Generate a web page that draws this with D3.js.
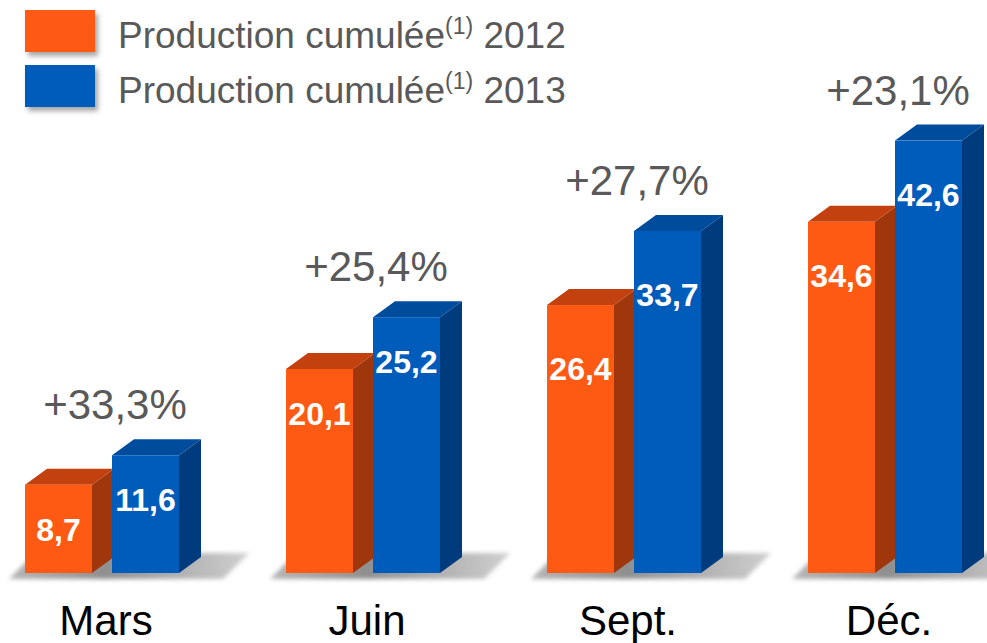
<!DOCTYPE html>
<html>
<head>
<meta charset="utf-8">
<script src="https://cdn.jsdelivr.net/npm/d3@7"></script>
<style>
  body { margin: 0; background: #fff; }
  text { font-family: "Liberation Sans", Arial, sans-serif; }
</style>
</head>
<body>
<script>
// data
var categories = ['Mars', 'Juin', 'Sept.', 'Déc.'];
var series = ['2012', '2013'];
var prod2012 = [8.7, 20.1, 26.4, 34.6];
var prod2013 = [11.6, 25.2, 33.7, 42.6];
var growthLabels = ['+33,3%', '+25,4%', '+27,7%', '+23,1%'];

// layout
var width = 987, height = 643;
var baseY = 573;
var depth = { dx: 22, dy: -16 };
var labelDrop = [45, 45, 64, 54]; // value label offset under bar top, per group
var colors = {
  '2012': { front: '#FE5A14', top: '#C2410E', side: '#A0360B' },
  '2013': { front: '#005CBB', top: '#004C9C', side: '#003B7E' }
};

var svg = d3.select('body').append('svg')
  .attr('width', width).attr('height', height);

var defs = svg.append('defs');
defs.append('filter').attr('id', 'blur')
  .attr('x', '-20%').attr('y', '-50%').attr('width', '140%').attr('height', '200%')
  .append('feGaussianBlur').attr('stdDeviation', 2);
var ds = defs.append('filter').attr('id', 'drop')
  .attr('x', '-20%').attr('y', '-20%').attr('width', '150%').attr('height', '160%');
ds.append('feDropShadow').attr('dx', 3).attr('dy', 4).attr('stdDeviation', 2.5)
  .attr('flood-color', '#000').attr('flood-opacity', 0.35);
var sg = defs.append('linearGradient').attr('id', 'floor');
sg.append('stop').attr('offset', '0%').attr('stop-color', '#b5b5b5');
sg.append('stop').attr('offset', '40%').attr('stop-color', '#8f8f8f');
sg.append('stop').attr('offset', '100%').attr('stop-color', '#d0d0d0');

var x = d3.scaleBand().domain(categories).range([25, 25 + 261 * 4]).padding(0);
var xs = d3.scaleBand().domain(series).range([0, 154]).paddingInner(0.23);
var y = d3.scaleLinear().domain([0, 45]).range([baseY, baseY - 45 * 10.15]);

var rows = categories.map(function(c, i) {
  return { cat: c, i: i, values: [
    { s: '2012', v: prod2012[i] },
    { s: '2013', v: prod2013[i] }
  ] };
});

var groups = svg.selectAll('g.group').data(rows).enter()
  .append('g').attr('class', 'group')
  .attr('transform', function(d) { return 'translate(' + x(d.cat) + ',0)'; });

// floor shadow
groups.append('polygon')
  .attr('points', function() {
    var w = xs.range()[1];
    return [[-16, baseY + 6], [w + 44, baseY + 6], [w + 70, baseY - 20], [10, baseY - 20]]
      .map(function(p) { return p.join(','); }).join(' ');
  })
  .attr('fill', 'url(#floor)')
  .attr('filter', 'url(#blur)');

var bars = groups.selectAll('g.bar').data(function(d) { return d.values; }).enter()
  .append('g').attr('class', 'bar');

var bw = xs.bandwidth();

bars.append('polygon') // side
  .attr('points', function(d) {
    var x1 = xs(d.s) + bw, t = y(d.v);
    return [[x1, t], [x1 + depth.dx, t + depth.dy], [x1 + depth.dx, baseY + depth.dy], [x1, baseY]]
      .map(function(p) { return p.join(','); }).join(' ');
  })
  .attr('fill', function(d) { return colors[d.s].side; });

bars.append('polygon') // top
  .attr('points', function(d) {
    var x0 = xs(d.s), t = y(d.v);
    return [[x0, t], [x0 + depth.dx, t + depth.dy], [x0 + bw + depth.dx, t + depth.dy], [x0 + bw, t]]
      .map(function(p) { return p.join(','); }).join(' ');
  })
  .attr('fill', function(d) { return colors[d.s].top; });

bars.append('rect') // front
  .attr('x', function(d) { return xs(d.s); })
  .attr('y', function(d) { return y(d.v); })
  .attr('width', bw)
  .attr('height', function(d) { return baseY - y(d.v); })
  .attr('fill', function(d) { return colors[d.s].front; });

bars.append('text')
  .attr('x', function(d) { return xs(d.s) + bw / 2; })
  .attr('y', function(d) {
    var gi = d3.select(this.parentNode.parentNode).datum().i;
    return y(d.v) + labelDrop[gi] + 11;
  })
  .attr('text-anchor', 'middle')
  .attr('fill', '#fff')
  .attr('font-weight', 'bold')
  .attr('font-size', 32)
  .text(function(d) { return String(d.v).replace('.', ','); });

// growth labels
groups.append('text')
  .attr('x', 90)
  .attr('y', function(d) { return y(prod2013[d.i]) - 36; })
  .attr('text-anchor', 'middle')
  .attr('fill', '#595959')
  .attr('font-size', 42)
  .text(function(d) { return growthLabels[d.i]; });

// category labels
groups.append('text')
  .attr('x', 81)
  .attr('y', 635)
  .attr('text-anchor', 'middle')
  .attr('fill', '#000')
  .attr('font-size', 42)
  .text(function(d) { return d.cat; });

// legend
var legend = svg.selectAll('g.legend').data(series).enter()
  .append('g').attr('class', 'legend')
  .attr('transform', function(d, i) { return 'translate(25,' + (10 + i * 55) + ')'; });

legend.append('rect')
  .attr('width', 70).attr('height', 42)
  .attr('fill', function(d) { return colors[d].front; })
  .attr('filter', 'url(#drop)');

var lt = legend.append('text')
  .attr('x', 93).attr('y', 38)
  .attr('fill', '#595959')
  .attr('font-size', 37);
lt.append('tspan').text('Production cumulée');
lt.append('tspan').attr('font-size', 23).attr('dy', -14).text('(1)');
lt.append('tspan').attr('dy', 14).text(function(d) { return ' ' + d; });
</script>
</body>
</html>
